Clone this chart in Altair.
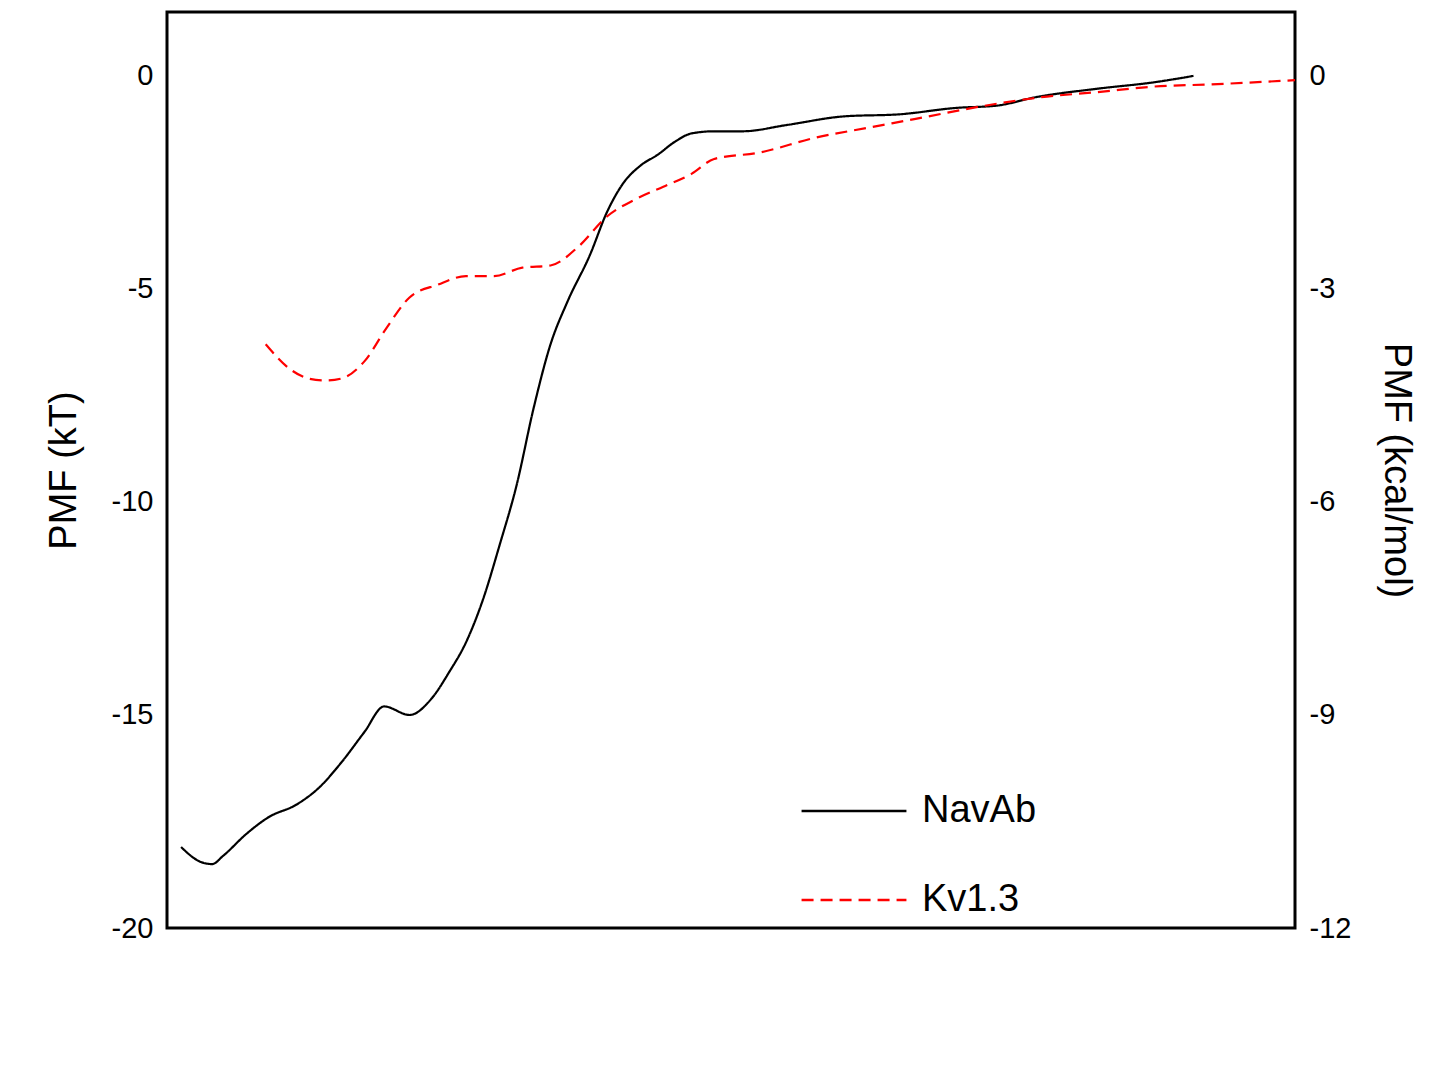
import altair as alt
import pandas as pd

nav_x = [20.25, 20.6, 20.8, 21.0, 21.4, 21.8, 22.3, 22.7, 23.1, 23.5, 23.85, 24.3, 24.7,
         25.0, 25.3, 25.6, 25.9, 26.2, 26.5, 26.8, 27.1, 27.5, 27.8, 28.1, 28.4, 28.7,
         29.0, 29.3, 29.7, 30.2, 31.0, 32.0, 33.0, 34.0, 34.7, 35.4, 36.5, 37.5, 38.2]
nav_y = [-18.1, -18.45, -18.5, -18.3, -17.8, -17.4, -17.1, -16.7, -16.1, -15.4, -14.8, -15.0, -14.6,
         -14.0, -13.3, -12.3, -11.0, -9.6, -7.8, -6.3, -5.3, -4.2, -3.2, -2.5, -2.1, -1.85,
         -1.55, -1.35, -1.3, -1.3, -1.15, -0.95, -0.9, -0.75, -0.7, -0.5, -0.3, -0.15, 0.0]
kv_x = [21.75, 22.2, 22.5, 22.8, 23.1, 23.5, 23.9, 24.3, 24.8, 25.3, 25.8, 26.3, 26.8, 27.3,
        27.8, 28.3, 28.8, 29.3, 29.7, 30.5, 31.5, 32.5, 33.5, 34.5, 35.5, 36.5, 37.5, 38.5, 40.0]
kv_y = [-6.3, -6.9, -7.1, -7.15, -7.1, -6.7, -5.9, -5.2, -4.9, -4.7, -4.7, -4.5, -4.45, -4.0,
        -3.3, -2.9, -2.6, -2.3, -1.95, -1.8, -1.45, -1.2, -0.95, -0.7, -0.5, -0.38, -0.25, -0.2, -0.1]

df = pd.concat([
    pd.DataFrame({"x": nav_x, "y": nav_y, "series": "NavAb"}),
    pd.DataFrame({"x": kv_x, "y": kv_y, "series": "Kv1.3"}),
])
df["kcal"] = df["y"] * 0.6

font = "Liberation Sans"
common = dict(grid=False, ticks=False, labelFontSize=29, titleFontSize=38, labelPadding=14,
              titleFontWeight="normal", domain=False, labelFont=font, titleFont=font,
              labelColor="black", titleColor="black",
              labelExpr="replace(format(datum.value, 'd'), '−', '-')")

xscale = alt.Scale(domain=[20, 40], nice=False)
xaxis = alt.Axis(values=[20, 25, 30, 35, 40], title="Axial position (Å)", titlePadding=26, **common)

lines = alt.Chart(df).mark_line(strokeWidth=2.2, interpolate="monotone").encode(
    x=alt.X("x:Q", scale=xscale, axis=xaxis),
    y=alt.Y("y:Q", scale=alt.Scale(domain=[-20, 1.5], nice=False),
            axis=alt.Axis(values=[-20, -15, -10, -5, 0], title="PMF (kT)", titlePadding=28, **common)),
    color=alt.Color("series:N", sort=["NavAb", "Kv1.3"],
                    scale=alt.Scale(domain=["NavAb", "Kv1.3"], range=["black", "red"]),
                    legend=alt.Legend(title=None, orient="none", legendX=633, legendY=745,
                                      symbolType="stroke", symbolSize=11000, symbolStrokeWidth=2.5,
                                      labelFontSize=38, labelFont=font, rowPadding=16,
                                      labelOffset=14, labelColor="black")),
    strokeDash=alt.StrokeDash("series:N", sort=["NavAb", "Kv1.3"],
                              scale=alt.Scale(domain=["NavAb", "Kv1.3"], range=[[1, 0], [12, 7]]),
                              legend=None),
)

right = alt.Chart(df).mark_line(opacity=0).encode(
    x=alt.X("x:Q", scale=xscale, axis=None),
    y=alt.Y("kcal:Q", scale=alt.Scale(domain=[-12, 0.9], nice=False),
            axis=alt.Axis(orient="right", values=[-12, -9, -6, -3, 0], title="PMF (kcal/mol)",
                          titlePadding=26, titleAngle=90, **common)),
)

chart = alt.layer(lines, right).resolve_scale(y="independent").properties(
    width=1128, height=916,
    autosize=alt.AutoSizeParams(type="none"),
    padding={"left": 159, "top": 4, "right": 140, "bottom": 140},
).configure_view(stroke="black", strokeWidth=3)

chart.save("out.html", embed_options={"renderer": "svg", "actions": False})
